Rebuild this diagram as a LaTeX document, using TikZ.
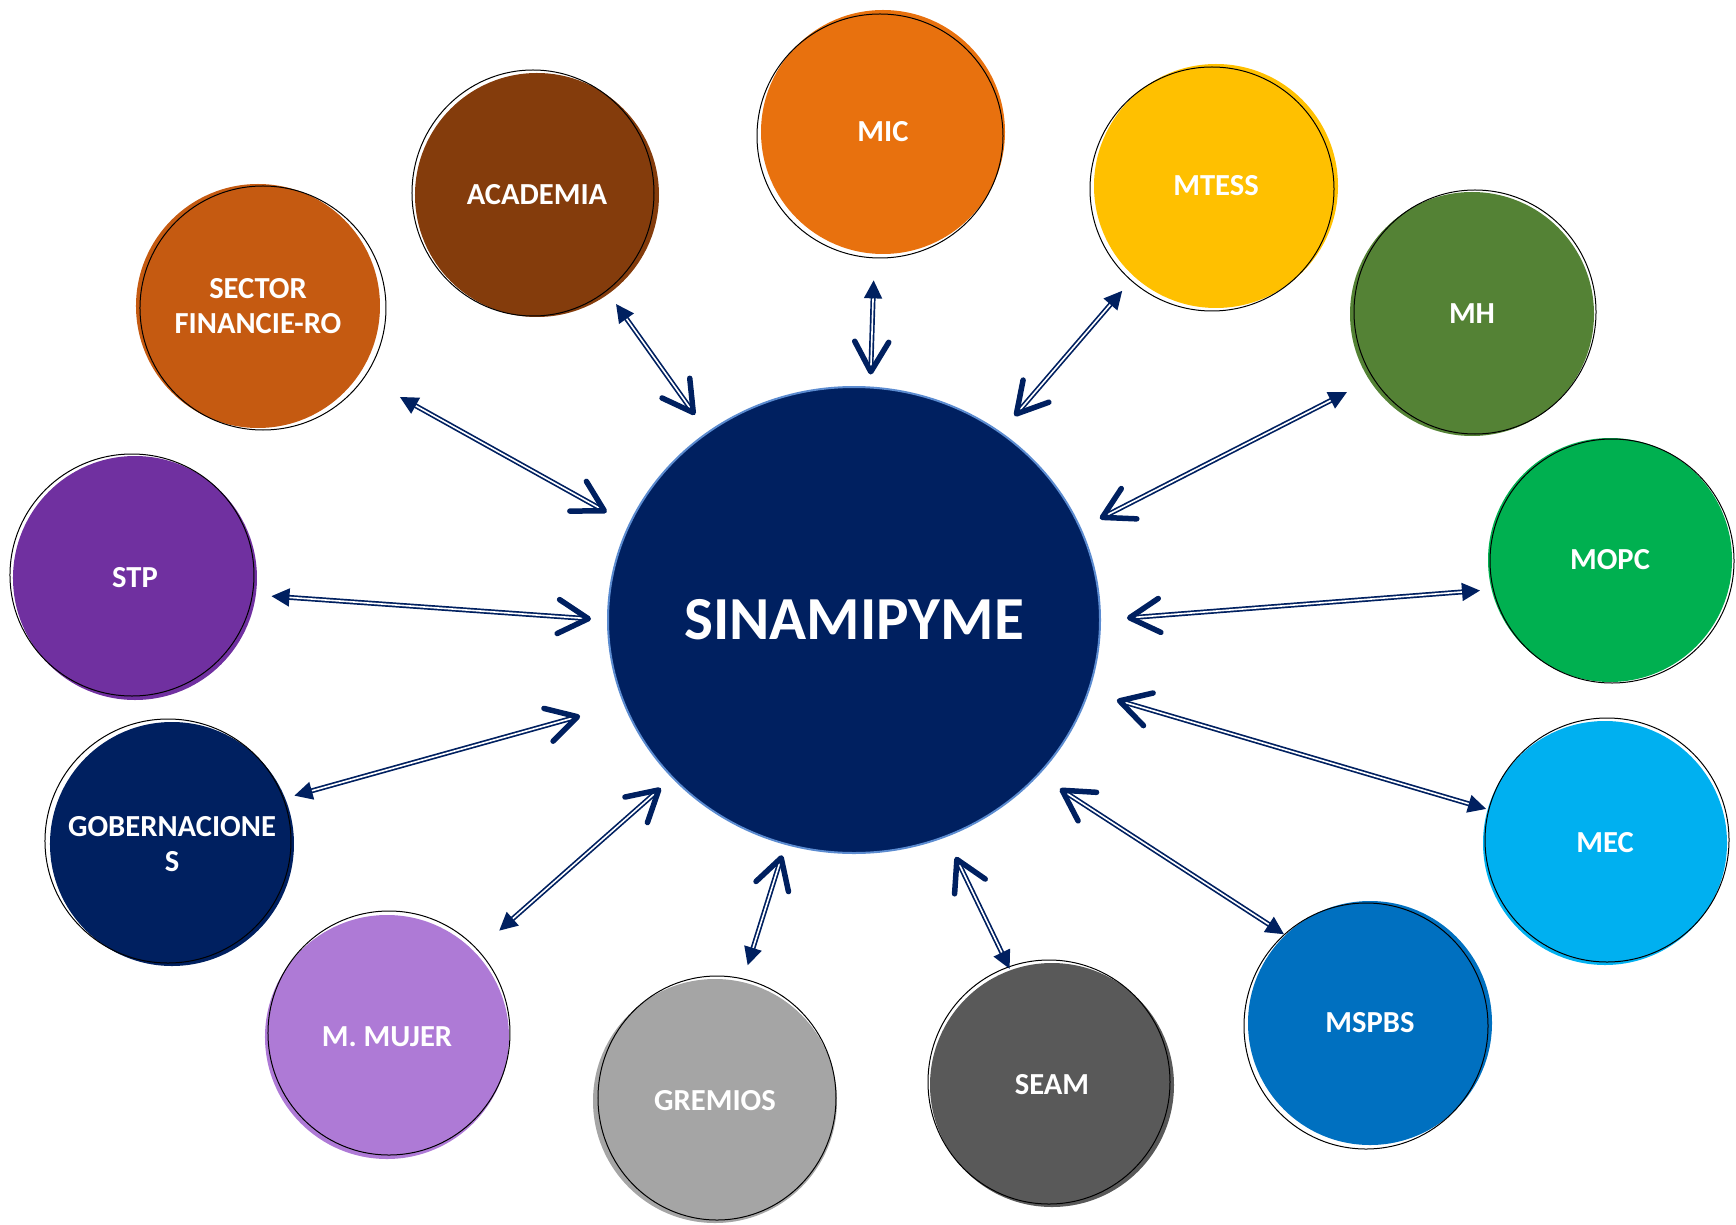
\documentclass[tikz,border=0pt]{standalone}
\usepackage{fontspec}
\setmainfont{Carlito}
\usepackage{tikz}
\usetikzlibrary{positioning,arrows.meta,shapes.geometric}
\definecolor{navy}{HTML}{002060}
\definecolor{rim}{HTML}{5B8BD0}
\definecolor{cMIC}{HTML}{E8710E}
\definecolor{cACA}{HTML}{843C0C}
\definecolor{cFIN}{HTML}{C55A11}
\definecolor{cSTP}{HTML}{7030A0}
\definecolor{cGOB}{HTML}{002060}
\definecolor{cMUJ}{HTML}{AE7AD6}
\definecolor{cGRE}{HTML}{A5A5A5}
\definecolor{cSEA}{HTML}{595959}
\definecolor{cMSP}{HTML}{0070C0}
\definecolor{cMEC}{HTML}{00B0F0}
\definecolor{cMOP}{HTML}{00B050}
\definecolor{cMH}{HTML}{548235}
\definecolor{cMTE}{HTML}{FFC000}
\tikzset{
  sat/.style={circle, minimum size=2.44cm, inner sep=0pt, text=white, align=center,
    font=\bfseries\fontsize{8.7}{10.1}\selectfont},
  sketch/.style={draw=black, line width=0.1mm},
  link/.style={draw=navy, double=white, double distance=0.16mm, line width=0.17mm,
    {Triangle[length=1.8mm,width=1.8mm]}-{Straight Barb[length=3mm,width=3.4mm,line width=0.55mm,round]}},
}
\begin{document}
\begin{tikzpicture}
		\useasboundingbox (-8.54,-6.04) rectangle (8.82,6.20);

		\node(C0) [ellipse, minimum width=4.92cm, minimum height=4.66cm, inner sep=0pt, fill=navy, draw=rim, line width=0.2mm,
			text=white, font=\bfseries\fontsize{17.4}{20}\selectfont] at (0,0) {SINAMIPYME};

		\node(S1)  [sat, fill=cMIC] at (0.29,4.88)   {MIC};
		\node(S2)  [sat, fill=cACA] at (-3.17,4.25)  {ACADEMIA};
		\node(S3)  [sat, fill=cFIN] at (-5.96,3.14)  {SECTOR\\FINANCIE-RO};
		\node(S4)  [sat, fill=cSTP] at (-7.19,0.42)  {STP};
		\node(S5)  [sat, fill=cGOB] at (-6.82,-2.24) {GOBERNACIONE\\S};
		\node(S6)  [sat, fill=cMUJ] at (-4.67,-4.17) {M. MUJER};
		\node(S7)  [sat, fill=cGRE] at (-1.39,-4.81) {GREMIOS};
		\node(S8)  [sat, fill=cSEA] at (1.98,-4.65)  {SEAM};
		\node(S9)  [sat, fill=cMSP] at (5.16,-4.03)  {MSPBS};
		\node(S10) [sat, fill=cMEC] at (7.51,-2.23)  {MEC};
		\node(S11) [sat, fill=cMOP] at (7.56,0.60)   {MOPC};
		\node(S12) [sat, fill=cMH]  at (6.18,3.06)   {MH};
		\node(S13) [sat, fill=cMTE] at (3.62,4.34)   {MTESS};

		% pencil rings, a little off the fills
		\draw[sketch] ([shift={(-0.3mm,-0.4mm)}]S1.center)  ellipse (1.23 and 1.22);
		\draw[sketch] ([shift={(-0.4mm,0.2mm)}]S2.center)   ellipse (1.21 and 1.23);
		\draw[sketch] ([shift={(0.5mm,-0.2mm)}]S3.center)   ellipse (1.23 and 1.22);
		\draw[sketch] ([shift={(-0.3mm,0.3mm)}]S4.center)   ellipse (1.22 and 1.21);
		\draw[sketch] ([shift={(-0.4mm,0.3mm)}]S5.center)   ellipse (1.23 and 1.22);
		\draw[sketch] ([shift={(0.2mm,0.4mm)}]S6.center)    ellipse (1.21 and 1.22);
		\draw[sketch] ([shift={(0.2mm,0.3mm)}]S7.center)    ellipse (1.19 and 1.22);
		\draw[sketch] ([shift={(-0.3mm,0.3mm)}]S8.center)   ellipse (1.21 and 1.22);
		\draw[sketch] ([shift={(-0.4mm,-0.3mm)}]S9.center)  ellipse (1.22 and 1.23);
		\draw[sketch] ([shift={(0.2mm,0.3mm)}]S10.center)   ellipse (1.22 and 1.22);
		\draw[sketch] ([shift={(0.2mm,-0.1mm)}]S11.center)  ellipse (1.22 and 1.22);
		\draw[sketch] ([shift={(0.3mm,0.2mm)}]S12.center)   ellipse (1.21 and 1.22);
		\draw[sketch] ([shift={(-0.4mm,-0.3mm)}]S13.center) ellipse (1.22 and 1.22);

		\draw[link, shorten <=2.6mm, shorten >=1.2mm] (S1.266) -- (C0.86);
		\draw[link, shorten <=1.2mm, shorten >=2.1mm] (S2.-54) -- (C0.128);
		\draw[link, shorten <=4.6mm, shorten >=2.5mm] (S3.-34) -- (C0.157);
		\draw[link, shorten <=1.5mm, shorten >=1.6mm] (S4.-8) -- (C0.180);
		\draw[link, shorten <=0.9mm, shorten >=4.5mm] (S5.22) -- (C0.200);
		\draw[link, shorten <=3.2mm, shorten >=1.5mm] (S6.44) -- (C0.221);
		\draw[link, shorten <=1.7mm, shorten >=1.1mm] (S7.77) -- (C0.253);
		\draw[link, shorten <=0.1mm, shorten >=2.2mm] (S8.110) -- (C0.293);
		\draw[link, shorten <=0.1mm, shorten >=2.5mm] (S9.134) -- (C0.320);
		\draw[link, shorten <=0.1mm, shorten >=2.9mm] (S10.164) -- (C0.343);
		\draw[link, shorten <=1.1mm, shorten >=2.6mm] (S11.194) -- (C0.0);
		\draw[link, shorten <=2.5mm, shorten >=2.1mm] (S12.213) -- (C0.22);
		\draw[link, shorten <=1.8mm, shorten >=2.1mm] (S13.228) -- (C0.52);

	\end{tikzpicture}
\end{document}
